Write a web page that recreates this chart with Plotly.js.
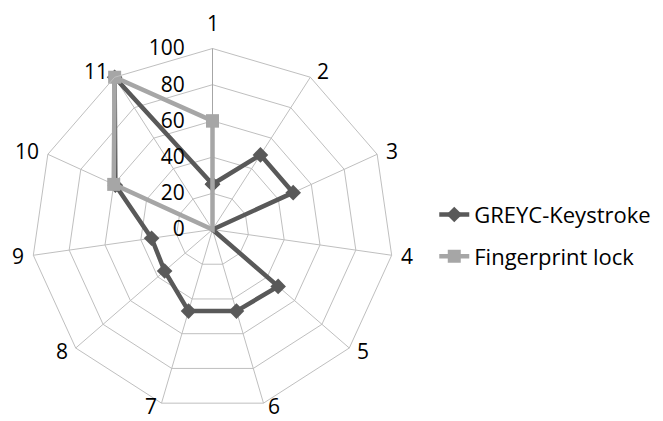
<!DOCTYPE html>
<html>
<head>
<meta charset="utf-8">
<script src="https://cdn.plot.ly/plotly-3.0.1.min.js"></script>
<style>html,body{margin:0;padding:0;background:#fff;}#chart{width:663px;height:421px;}</style>
</head>
<body>
<div id="chart"></div>
<script>
const categories = ["1","2","3","4","5","6","7","8","9","10","11"];
const greycKeystroke = [25, 49, 49, 0, 48, 47, 47, 35, 34, 59, 100];
const fingerprintLock = [60, 0, 0, 0, 0, 0, 0, 0, 0, 60, 100];
const radialTicks = [0, 20, 40, 60, 80, 100];

const close = a => a.concat([a[0]]);
const fontFam = "'Open Sans', 'Liberation Sans', sans-serif";
const fsz = 21;
const W = 663, H = 421;

// polar placement (pixels): centre and outer radius
const cx = 212.5, cy = 229.5, R = 181;
const domX = [(cx - R) / W, (cx + R) / W];
const domY = [(H - cy - R) / H, (H - cy + R) / H];

// category labels attached to the outer vertices, Excel style
const n = categories.length;
const catAnnotations = categories.map((c, i) => {
  const a = i * 2 * Math.PI / n;
  const s = Math.sin(a), co = Math.cos(a);
  const side = Math.abs(s) < 0.1 ? 0 : Math.sign(s);
  return {
    xref: 'paper', yref: 'paper',
    x: (cx + R * s) / W,
    y: (H - (cy - R * co)) / H,
    xanchor: side > 0 ? 'left' : side < 0 ? 'right' : 'center',
    yanchor: 'middle',
    xshift: side * (1 + 6 * Math.abs(s)),
    yshift: i === 0 ? 26 : Math.max(co * 8, -3),
    text: c, showarrow: false,
    font: {family: fontFam, size: fsz, color: '#000'}
  };
});

const traces = [
  {
    type: 'scatterpolar', mode: 'lines+markers', name: 'GREYC-Keystroke',
    r: close(greycKeystroke), theta: close(categories),
    line: {color: '#595959', width: 4.5},
    marker: {symbol: 'diamond', size: 12, color: '#595959'},
    legendgroup: 'a', cliponaxis: false, hoverinfo: 'skip'
  },
  {
    type: 'scatterpolar', mode: 'lines+markers', name: 'Fingerprint lock',
    r: close(fingerprintLock), theta: close(categories),
    line: {color: '#A6A6A6', width: 4.5},
    marker: {symbol: 'square', size: 13, color: '#A6A6A6'},
    legendgroup: 'b', cliponaxis: false, hoverinfo: 'skip'
  }
];

const layout = {
  width: W, height: H,
  margin: {l: 0, r: 0, t: 0, b: 0},
  paper_bgcolor: '#fff',
  font: {family: fontFam, size: fsz, color: '#000'},
  showlegend: true,
  legend: {x: 0.655, y: 0.44, xanchor: 'left', yanchor: 'middle',
           font: {family: fontFam, size: 22, color: '#000'},
           tracegroupgap: 10, itemwidth: 30, bgcolor: 'rgba(0,0,0,0)'},
  annotations: catAnnotations,
  polar: {
    domain: {x: domX, y: domY},
    bgcolor: '#fff',
    gridshape: 'linear',
    radialaxis: {
      range: [0, 100], tickvals: radialTicks, ticktext: radialTicks.map(String),
      angle: 90, tickangle: 90, side: 'counterclockwise',
      showline: true, linecolor: '#A6A6A6', linewidth: 1,
      gridcolor: '#BFBFBF', gridwidth: 1,
      ticks: 'outside', ticklen: 20, tickcolor: 'rgba(0,0,0,0)',
      tickfont: {family: fontFam, size: fsz, color: '#000'}
    },
    angularaxis: {
      type: 'category', categoryarray: categories,
      direction: 'clockwise', rotation: 90,
      showline: true, linecolor: '#BFBFBF', linewidth: 1,
      gridcolor: '#BFBFBF', gridwidth: 1, ticks: '',
      showticklabels: false
    }
  }
};

Plotly.newPlot('chart', traces, layout, {displayModeBar: false, staticPlot: true});
</script>
</body>
</html>
